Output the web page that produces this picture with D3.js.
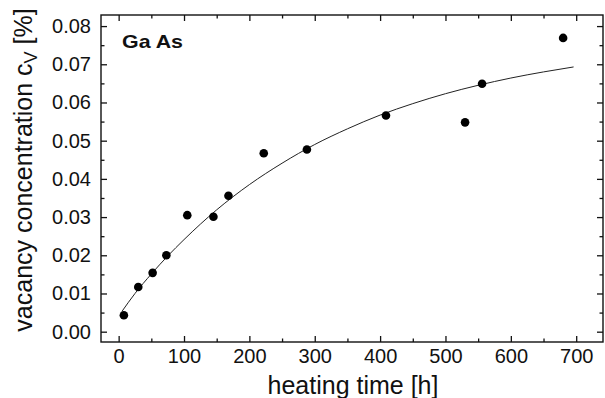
<!DOCTYPE html>
<html>
<head>
<meta charset="utf-8">
<script src="https://cdn.jsdelivr.net/npm/d3@7"></script>
<style>
  html, body { margin: 0; padding: 0; background: #fff; }
  svg { display: block; }
  text { font-family: "Liberation Sans", Arial, sans-serif; fill: #111; }
  .axis path, .axis line { stroke: #111; }
</style>
</head>
<body>
<script>
// measured points (heating time in h, vacancy concentration in %)
var heatTime = [8, 30, 52, 73, 105, 145, 168, 222, 288, 409, 530, 556, 680];
var vacancy  = [0.0043, 0.0117, 0.0154, 0.0200, 0.0305, 0.0301, 0.0356, 0.0467, 0.0477, 0.0566, 0.0548, 0.0649, 0.0769];

// fitted curve
var fitTime  = [5, 25, 50, 75, 100, 150, 200, 250, 300, 350, 400, 450, 500, 550, 600, 650, 696];
var fitValue = [0.0053, 0.0100, 0.0151, 0.0198, 0.0241, 0.0319, 0.0385, 0.0441, 0.0490, 0.0531, 0.0567, 0.0597, 0.0623, 0.0645, 0.0664, 0.0680, 0.0693];

var xTicks = [0, 100, 200, 300, 400, 500, 600, 700];
var yTicks = [0.00, 0.01, 0.02, 0.03, 0.04, 0.05, 0.06, 0.07, 0.08];

(function() {
  var width = 605, height = 398;
  var pl = 101, pr = 603, pt = 15, pb = 342;

  var svg = d3.select('body').append('svg')
    .attr('width', width)
    .attr('height', height);

  var x = d3.scaleLinear().domain([-27, 741]).range([pl, pr]);
  var y = d3.scaleLinear().domain([-0.0027, 0.0829]).range([pb, pt]);

  var xMinor = d3.range(50, 741, 100);
  var yMinor = d3.range(0.005, 0.0829, 0.01);

  // minor ticks
  svg.append('g').attr('class', 'axis').attr('transform', 'translate(0,' + pb + ')')
    .call(d3.axisBottom(x).tickValues(xMinor).tickSize(-3.5).tickFormat(''));
  svg.append('g').attr('class', 'axis').attr('transform', 'translate(0,' + pt + ')')
    .call(d3.axisTop(x).tickValues(xMinor).tickSize(-3.5).tickFormat(''));
  svg.append('g').attr('class', 'axis').attr('transform', 'translate(' + pl + ',0)')
    .call(d3.axisLeft(y).tickValues(yMinor).tickSize(-3.5).tickFormat(''));
  svg.append('g').attr('class', 'axis').attr('transform', 'translate(' + pr + ',0)')
    .call(d3.axisRight(y).tickValues(yMinor).tickSize(-3.5).tickFormat(''));

  // major ticks
  var gx = svg.append('g').attr('class', 'axis').attr('transform', 'translate(0,' + pb + ')')
    .call(d3.axisBottom(x).tickValues(xTicks).tickSize(-6).tickPadding(7).tickSizeOuter(0));
  gx.selectAll('text').style('font-size', '20px');

  svg.append('g').attr('class', 'axis').attr('transform', 'translate(0,' + pt + ')')
    .call(d3.axisTop(x).tickValues(xTicks).tickSize(-6).tickSizeOuter(0).tickFormat(''));

  var gy = svg.append('g').attr('class', 'axis').attr('transform', 'translate(' + pl + ',0)')
    .call(d3.axisLeft(y).tickValues(yTicks).tickSize(-6).tickPadding(10).tickSizeOuter(0)
      .tickFormat(d3.format('.2f')));
  gy.selectAll('text').style('font-size', '20px');

  svg.append('g').attr('class', 'axis').attr('transform', 'translate(' + pr + ',0)')
    .call(d3.axisRight(y).tickValues(yTicks).tickSize(-6).tickSizeOuter(0).tickFormat(''));

  svg.selectAll('.axis path').remove();
  svg.selectAll('.axis line').attr('stroke-width', 1.3);

  // frame
  svg.append('rect')
    .attr('x', pl).attr('y', pt)
    .attr('width', pr - pl).attr('height', pb - pt)
    .attr('fill', 'none').attr('stroke', '#111').attr('stroke-width', 1.4);

  // fit line
  var line = d3.line()
    .x(function(d, i) { return x(fitTime[i]); })
    .y(function(d) { return y(d); })
    .curve(d3.curveMonotoneX);

  svg.append('path')
    .datum(fitValue)
    .attr('d', line)
    .attr('fill', 'none')
    .attr('stroke', '#222')
    .attr('stroke-width', 1);

  // data points
  svg.selectAll('.dot')
    .data(heatTime)
    .enter().append('circle')
    .attr('class', 'dot')
    .attr('cx', function(d) { return x(d); })
    .attr('cy', function(d, i) { return y(vacancy[i]); })
    .attr('r', 4.3)
    .attr('fill', '#000');

  // labels
  svg.append('text')
    .attr('x', 122).attr('y', 48)
    .attr('textLength', 61).attr('lengthAdjust', 'spacingAndGlyphs')
    .style('font-size', '19px').style('font-weight', 'bold')
    .text('Ga As');

  svg.append('text')
    .attr('x', 353).attr('y', 394)
    .attr('text-anchor', 'middle')
    .style('font-size', '25px')
    .text('heating time [h]');

  var yl = svg.append('text')
    .attr('transform', 'translate(32,170) rotate(-90)')
    .attr('text-anchor', 'middle')
    .style('font-size', '25px');
  yl.append('tspan').text('vacancy concentration c');
  yl.append('tspan').attr('dy', 5).style('font-size', '18px').text('V');
  yl.append('tspan').attr('dy', -5).text(' [%]');
})();
</script>
</body>
</html>
